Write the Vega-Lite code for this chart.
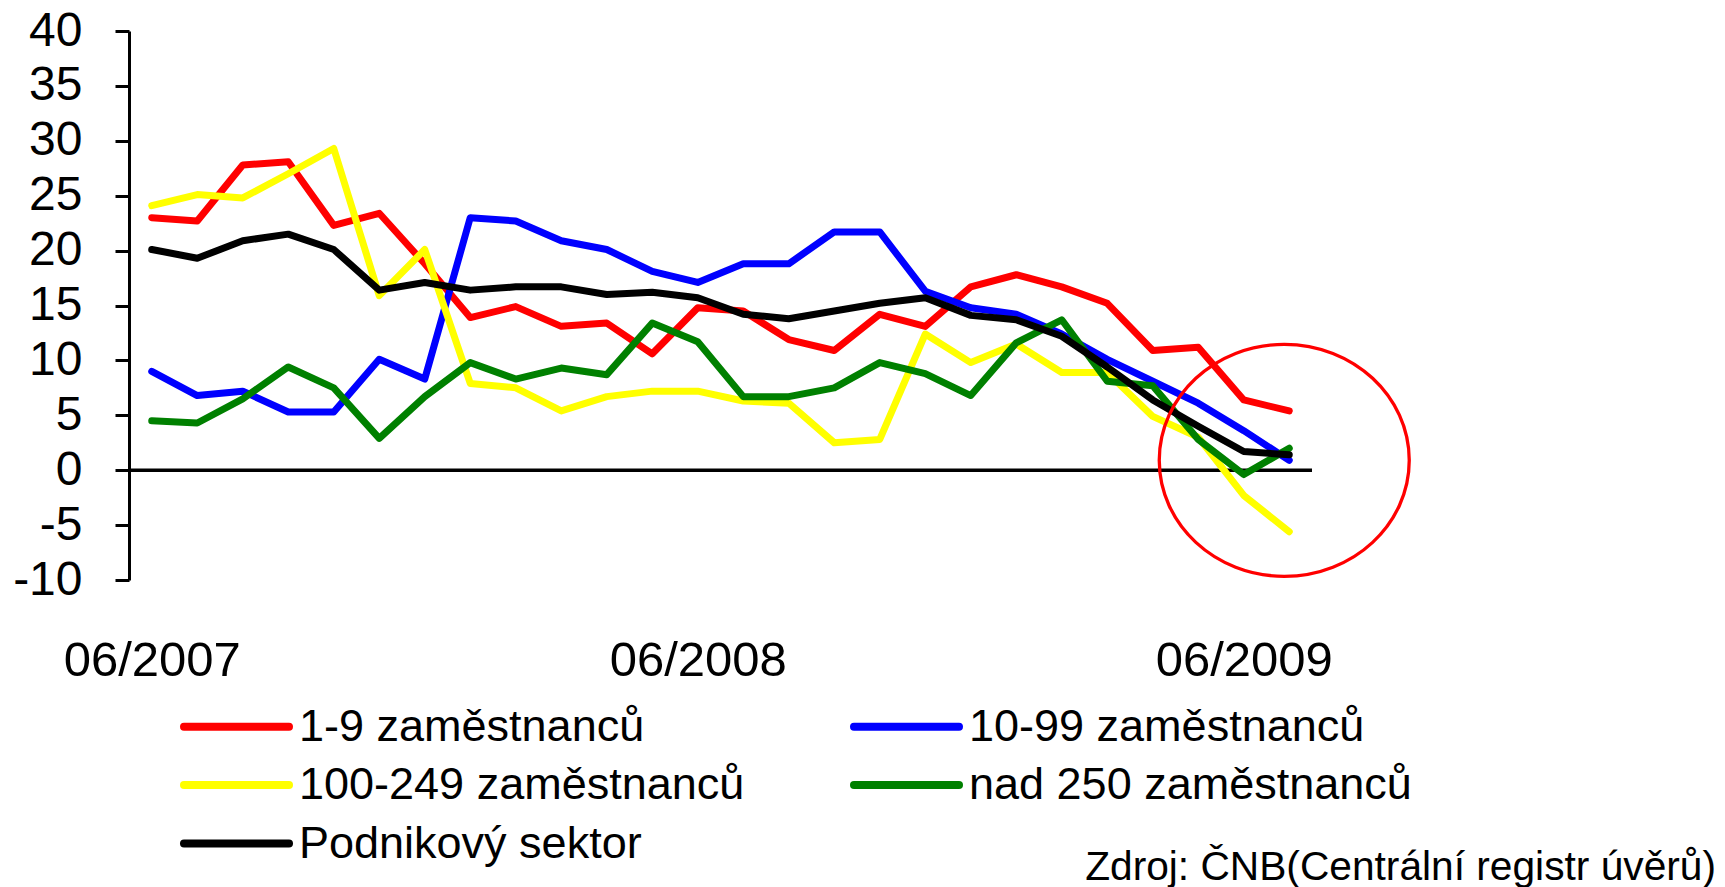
{
  "$schema": "https://vega.github.io/schema/vega-lite/v6.json",
  "width": 1183,
  "height": 549,
  "autosize": {"type": "none"},
  "padding": {"left": 129, "top": 31, "right": 413, "bottom": 307},
  "background": "white",
  "config": {
    "view": {"stroke": null},
    "font": "Liberation Sans",
    "title": {"font": "Liberation Sans", "fontWeight": "normal"}
  },
  "title": {
    "text": "Zdroj: ČNB(Centrální registr úvěrů)",
    "orient": "bottom",
    "anchor": "end",
    "frame": "group",
    "baseline": "alphabetic",
    "fontSize": 40.7,
    "color": "black",
    "dx": 404,
    "dy": 13,
    "offset": 0
  },
  "datasets": {
    "series": [
      {"m": "06/2007", "1-9 zaměstnanců": 23.0, "10-99 zaměstnanců": 9.0, "100-249 zaměstnanců": 24.1, "nad 250 zaměstnanců": 4.5, "Podnikový sektor": 20.1},
      {"m": "07/2007", "1-9 zaměstnanců": 22.7, "10-99 zaměstnanců": 6.8, "100-249 zaměstnanců": 25.1, "nad 250 zaměstnanců": 4.3, "Podnikový sektor": 19.3},
      {"m": "08/2007", "1-9 zaměstnanců": 27.8, "10-99 zaměstnanců": 7.2, "100-249 zaměstnanců": 24.8, "nad 250 zaměstnanců": 6.5, "Podnikový sektor": 20.9},
      {"m": "09/2007", "1-9 zaměstnanců": 28.1, "10-99 zaměstnanců": 5.3, "100-249 zaměstnanců": 27.0, "nad 250 zaměstnanců": 9.4, "Podnikový sektor": 21.5},
      {"m": "10/2007", "1-9 zaměstnanců": 22.3, "10-99 zaměstnanců": 5.3, "100-249 zaměstnanců": 29.3, "nad 250 zaměstnanců": 7.5, "Podnikový sektor": 20.1},
      {"m": "11/2007", "1-9 zaměstnanců": 23.4, "10-99 zaměstnanců": 10.1, "100-249 zaměstnanců": 15.9, "nad 250 zaměstnanců": 2.9, "Podnikový sektor": 16.4},
      {"m": "12/2007", "1-9 zaměstnanců": 18.8, "10-99 zaměstnanců": 8.3, "100-249 zaměstnanců": 20.1, "nad 250 zaměstnanců": 6.7, "Podnikový sektor": 17.1},
      {"m": "01/2008", "1-9 zaměstnanců": 13.9, "10-99 zaměstnanců": 23.0, "100-249 zaměstnanců": 7.9, "nad 250 zaměstnanců": 9.8, "Podnikový sektor": 16.4},
      {"m": "02/2008", "1-9 zaměstnanců": 14.9, "10-99 zaměstnanců": 22.7, "100-249 zaměstnanců": 7.5, "nad 250 zaměstnanců": 8.3, "Podnikový sektor": 16.7},
      {"m": "03/2008", "1-9 zaměstnanců": 13.1, "10-99 zaměstnanců": 20.9, "100-249 zaměstnanců": 5.4, "nad 250 zaměstnanců": 9.3, "Podnikový sektor": 16.7},
      {"m": "04/2008", "1-9 zaměstnanců": 13.4, "10-99 zaměstnanců": 20.1, "100-249 zaměstnanců": 6.7, "nad 250 zaměstnanců": 8.7, "Podnikový sektor": 16.0},
      {"m": "05/2008", "1-9 zaměstnanců": 10.6, "10-99 zaměstnanců": 18.1, "100-249 zaměstnanců": 7.2, "nad 250 zaměstnanců": 13.4, "Podnikový sektor": 16.2},
      {"m": "06/2008", "1-9 zaměstnanců": 14.8, "10-99 zaměstnanců": 17.1, "100-249 zaměstnanců": 7.2, "nad 250 zaměstnanců": 11.7, "Podnikový sektor": 15.7},
      {"m": "07/2008", "1-9 zaměstnanců": 14.5, "10-99 zaměstnanců": 18.8, "100-249 zaměstnanců": 6.3, "nad 250 zaměstnanců": 6.7, "Podnikový sektor": 14.2},
      {"m": "08/2008", "1-9 zaměstnanců": 11.9, "10-99 zaměstnanců": 18.8, "100-249 zaměstnanců": 6.1, "nad 250 zaměstnanců": 6.7, "Podnikový sektor": 13.8},
      {"m": "09/2008", "1-9 zaměstnanců": 10.9, "10-99 zaměstnanců": 21.7, "100-249 zaměstnanců": 2.5, "nad 250 zaměstnanců": 7.5, "Podnikový sektor": 14.5},
      {"m": "10/2008", "1-9 zaměstnanců": 14.2, "10-99 zaměstnanců": 21.7, "100-249 zaměstnanců": 2.8, "nad 250 zaměstnanců": 9.8, "Podnikový sektor": 15.2},
      {"m": "11/2008", "1-9 zaměstnanců": 13.1, "10-99 zaměstnanců": 16.3, "100-249 zaměstnanců": 12.4, "nad 250 zaměstnanců": 8.8, "Podnikový sektor": 15.7},
      {"m": "12/2008", "1-9 zaměstnanců": 16.7, "10-99 zaměstnanců": 14.8, "100-249 zaměstnanců": 9.8, "nad 250 zaměstnanců": 6.8, "Podnikový sektor": 14.1},
      {"m": "01/2009", "1-9 zaměstnanců": 17.8, "10-99 zaměstnanců": 14.2, "100-249 zaměstnanců": 11.5, "nad 250 zaměstnanců": 11.6, "Podnikový sektor": 13.7},
      {"m": "02/2009", "1-9 zaměstnanců": 16.7, "10-99 zaměstnanců": 12.4, "100-249 zaměstnanců": 8.9, "nad 250 zaměstnanců": 13.7, "Podnikový sektor": 12.2},
      {"m": "03/2009", "1-9 zaměstnanců": 15.2, "10-99 zaměstnanců": 10.1, "100-249 zaměstnanců": 8.9, "nad 250 zaměstnanců": 8.1, "Podnikový sektor": 9.4},
      {"m": "04/2009", "1-9 zaměstnanců": 10.9, "10-99 zaměstnanců": 8.1, "100-249 zaměstnanců": 4.9, "nad 250 zaměstnanců": 7.7, "Podnikový sektor": 6.4},
      {"m": "05/2009", "1-9 zaměstnanců": 11.2, "10-99 zaměstnanců": 6.1, "100-249 zaměstnanců": 3.0, "nad 250 zaměstnanců": 2.8, "Podnikový sektor": 4.0},
      {"m": "06/2009", "1-9 zaměstnanců": 6.4, "10-99 zaměstnanců": 3.6, "100-249 zaměstnanců": -2.3, "nad 250 zaměstnanců": -0.4, "Podnikový sektor": 1.7},
      {"m": "07/2009", "1-9 zaměstnanců": 5.4, "10-99 zaměstnanců": 0.9, "100-249 zaměstnanců": -5.6, "nad 250 zaměstnanců": 2.0, "Podnikový sektor": 1.4}
    ],
    "highlight": [
      {"m": "07/2009", "v": 0.9}
    ]
  },
  "layer": [
    {
      "data": {"values": [{"v": 0}]},
      "mark": {"type": "rule", "color": "black", "strokeWidth": 3.5},
      "encoding": {
        "y": {"field": "v", "type": "quantitative", "scale": {"domain": [-10, 40], "nice": false, "zero": false}}
      }
    },
    {
      "data": {"name": "series"},
      "transform": [
        {"fold": ["1-9 zaměstnanců", "10-99 zaměstnanců", "100-249 zaměstnanců", "nad 250 zaměstnanců", "Podnikový sektor"], "as": ["s", "v"]}
      ],
      "mark": {"type": "line", "strokeWidth": 7, "strokeCap": "round", "strokeJoin": "round"},
      "encoding": {
        "x": {
          "field": "m", "type": "ordinal",
          "scale": {"domain": ["06/2007", "07/2007", "08/2007", "09/2007", "10/2007", "11/2007", "12/2007", "01/2008", "02/2008", "03/2008", "04/2008", "05/2008", "06/2008", "07/2008", "08/2008", "09/2008", "10/2008", "11/2008", "12/2008", "01/2009", "02/2009", "03/2009", "04/2009", "05/2009", "06/2009", "07/2009"]},
          "axis": {
            "values": ["06/2007", "06/2008", "06/2009"],
            "domain": false, "ticks": false, "tickSize": 0,
            "labelAngle": 0, "labelFontSize": 49, "labelFont": "Liberation Sans",
            "labelColor": "black", "labelBaseline": "alphabetic", "labelPadding": 95,
            "title": null, "grid": false
          }
        },
        "y": {
          "field": "v", "type": "quantitative",
          "scale": {"domain": [-10, 40], "nice": false, "zero": false},
          "axis": {
            "values": [-10, -5, 0, 5, 10, 15, 20, 25, 30, 35, 40],
            "grid": false, "title": null,
            "tickSize": 14, "tickWidth": 3, "tickColor": "black",
            "domainWidth": 3, "domainColor": "black",
            "labelFontSize": 48, "labelFont": "Liberation Sans", "labelColor": "black",
            "labelPadding": 33, "labelExpr": "'' + datum.value"
          }
        },
        "color": {
          "field": "s", "type": "nominal",
          "scale": {
            "domain": ["1-9 zaměstnanců", "10-99 zaměstnanců", "100-249 zaměstnanců", "nad 250 zaměstnanců", "Podnikový sektor"],
            "range": ["#FF0000", "#0000FF", "#FFFF00", "#008000", "#000000"]
          },
          "legend": {
            "orient": "none", "legendX": 85, "legendY": 673,
            "direction": "horizontal",
            "columns": 2, "title": null, "padding": 0,
            "symbolType": "M -3 0 L 3 0", "symbolSize": 1225, "symbolStrokeWidth": 8,
            "labelFontSize": 45, "labelFont": "Liberation Sans", "labelColor": "black",
            "labelLimit": 0, "labelOffset": 40,
            "columnPadding": 93, "rowPadding": 12.5,
            "encode": {"symbols": {"update": {"strokeCap": {"value": "round"}}}}
          }
        }
      }
    },
    {
      "data": {"name": "highlight"},
      "mark": {
        "type": "point",
        "shape": "M -1 0 A 1 0.928 0 1 0 1 0 A 1 0.928 0 1 0 -1 0 Z",
        "size": 62500,
        "filled": false,
        "stroke": "#FF0000",
        "strokeWidth": 3.3,
        "opacity": 1,
        "xOffset": -5
      },
      "encoding": {
        "x": {"field": "m", "type": "ordinal"},
        "y": {"field": "v", "type": "quantitative"}
      }
    }
  ]
}
